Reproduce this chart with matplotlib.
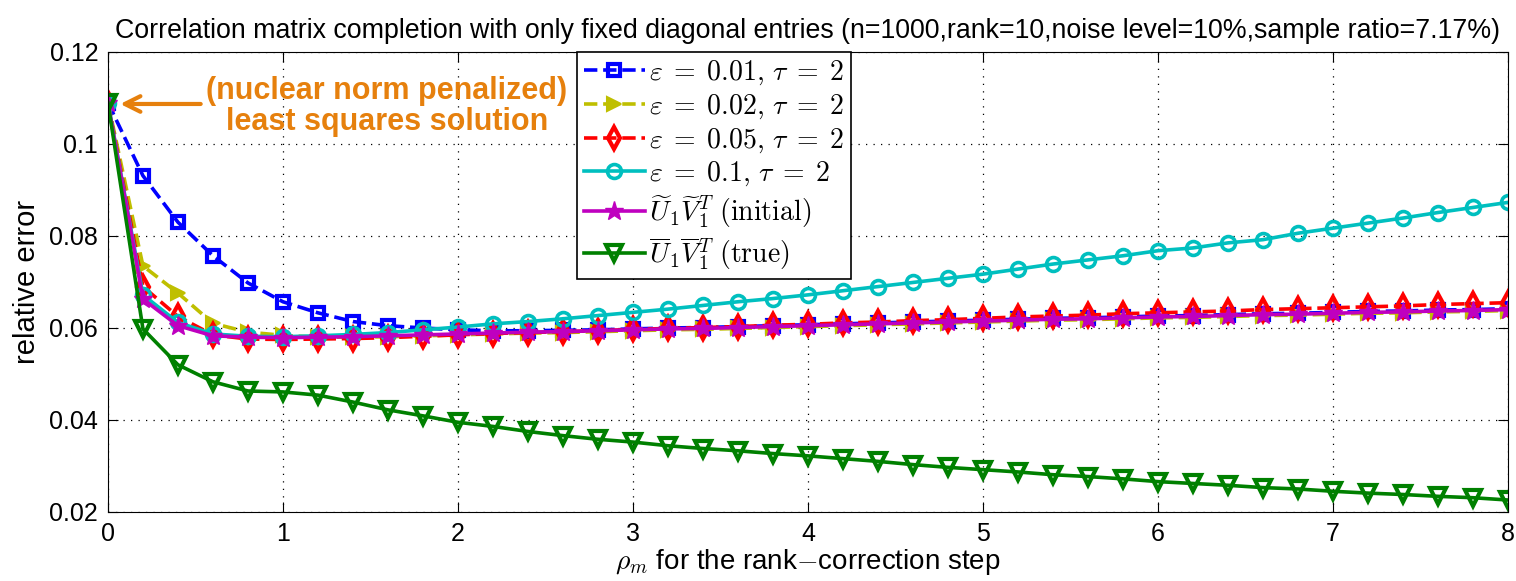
import numpy as np
import matplotlib
matplotlib.use('Agg')
import matplotlib.pyplot as plt

plt.rcParams['mathtext.fontset'] = 'cm'
plt.rcParams['font.family'] = ['Liberation Sans', 'DejaVu Sans']

# rho_m grid
rho = np.linspace(0, 8, 41)

# relative error curves
err_eps001 = [0.1090, 0.0931, 0.0830, 0.0757, 0.0698, 0.0657, 0.0633, 0.0614, 0.0605, 0.0600,
              0.0596, 0.0594, 0.0594, 0.0595, 0.0596, 0.0598, 0.0600, 0.0601, 0.0603, 0.0605,
              0.0607, 0.0609, 0.0611, 0.0613, 0.0615, 0.0617, 0.0619, 0.0621, 0.0622, 0.0624,
              0.0626, 0.0627, 0.0629, 0.0631, 0.0632, 0.0634, 0.0636, 0.0637, 0.0639, 0.0640, 0.0642]
err_eps002 = [0.1090, 0.0735, 0.0676, 0.0610, 0.0591, 0.0584, 0.0580, 0.0580, 0.0581, 0.0583,
              0.0585, 0.0587, 0.0589, 0.0590, 0.0592, 0.0594, 0.0596, 0.0597, 0.0599, 0.0601,
              0.0603, 0.0605, 0.0607, 0.0609, 0.0611, 0.0613, 0.0615, 0.0617, 0.0618, 0.0620,
              0.0622, 0.0623, 0.0625, 0.0627, 0.0628, 0.0630, 0.0632, 0.0633, 0.0635, 0.0636, 0.0638]
err_eps005 = [0.1090, 0.0690, 0.0625, 0.0585, 0.0576, 0.0575, 0.0576, 0.0577, 0.0579, 0.0582,
              0.0585, 0.0588, 0.0590, 0.0592, 0.0594, 0.0597, 0.0599, 0.0601, 0.0603, 0.0606,
              0.0608, 0.0611, 0.0613, 0.0616, 0.0618, 0.0621, 0.0624, 0.0626, 0.0628, 0.0631,
              0.0633, 0.0635, 0.0637, 0.0640, 0.0642, 0.0644, 0.0646, 0.0648, 0.0651, 0.0653, 0.0655]
err_eps01 = [0.1090, 0.0672, 0.0612, 0.0587, 0.0582, 0.0581, 0.0583, 0.0586, 0.0590, 0.0596,
             0.0602, 0.0609, 0.0614, 0.0620, 0.0627, 0.0634, 0.0641, 0.0649, 0.0657, 0.0664,
             0.0672, 0.0681, 0.0690, 0.0699, 0.0708, 0.0717, 0.0728, 0.0739, 0.0748, 0.0757,
             0.0768, 0.0774, 0.0785, 0.0792, 0.0806, 0.0817, 0.0828, 0.0839, 0.0851, 0.0862, 0.0873]
err_initial = [0.1090, 0.0663, 0.0605, 0.0583, 0.0580, 0.0579, 0.0580, 0.0581, 0.0583, 0.0585,
               0.0587, 0.0589, 0.0591, 0.0592, 0.0594, 0.0596, 0.0598, 0.0599, 0.0601, 0.0603,
               0.0605, 0.0607, 0.0609, 0.0611, 0.0613, 0.0615, 0.0617, 0.0619, 0.0620, 0.0622,
               0.0624, 0.0625, 0.0627, 0.0629, 0.0630, 0.0632, 0.0634, 0.0635, 0.0637, 0.0638, 0.0640]
err_true = [0.1090, 0.0598, 0.0520, 0.0483, 0.0463, 0.0461, 0.0454, 0.0439, 0.0422, 0.0409,
            0.0395, 0.0386, 0.0375, 0.0366, 0.0358, 0.0352, 0.0344, 0.0338, 0.0333, 0.0327,
            0.0322, 0.0316, 0.0310, 0.0303, 0.0297, 0.0292, 0.0287, 0.0281, 0.0277, 0.0272,
            0.0266, 0.0262, 0.0258, 0.0253, 0.0250, 0.0245, 0.0241, 0.0238, 0.0234, 0.0231, 0.0226]

xticks = [0, 1, 2, 3, 4, 5, 6, 7, 8]
yticks = [0.02, 0.04, 0.06, 0.08, 0.1, 0.12]
ytick_labels = ['0.02', '0.04', '0.06', '0.08', '0.1', '0.12']

fig = plt.figure(figsize=(15.16, 5.81), dpi=100)
ax = fig.add_axes([0.0712, 0.1188, 0.9235, 0.7917])

lw = 2.6
ax.plot(rho, err_eps001, '--', color=(0, 0, 1), lw=lw, marker='s', ms=9, mfc='none', mew=3,
        label=r'$\varepsilon\;=\;0.01,\,\tau\;=\;2$')
ax.plot(rho, err_eps002, '--', color=(0.75, 0.75, 0), lw=lw, marker='>', ms=10, mew=1.5,
        label=r'$\varepsilon\;=\;0.02,\,\tau\;=\;2$')
ax.plot(rho, err_eps005, '--', color=(1, 0, 0), lw=lw, marker='d', ms=11, mfc='none', mew=3,
        label=r'$\varepsilon\;=\;0.05,\,\tau\;=\;2$')
ax.plot(rho, err_eps01, '-', color=(0, 0.75, 0.75), lw=lw, marker='o', ms=10, mfc='none', mew=2.6,
        label=r'$\varepsilon\;=\;0.1,\,\tau\;=\;2$')
ax.plot(rho, err_initial, '-', color=(0.75, 0, 0.75), lw=lw, marker='*', ms=14,
        label=r'$\widetilde{U}_1\widetilde{V}_1^T\ \mathrm{(initial)}$')
ax.plot(rho, err_true, '-', color=(0, 0.5, 0), lw=lw, marker='v', ms=11, mfc='none', mew=3,
        label=r'$\overline{U}_1\overline{V}_1^T\ \mathrm{(true)}$')

ax.set_xlim(0, 8)
ax.set_ylim(0.02, 0.12)
ax.set_xticks(xticks)
ax.set_yticks(yticks)
ax.set_yticklabels(ytick_labels)
ax.tick_params(direction='in', top=True, right=True, labelsize=18, length=7, pad=7)
ax.grid(True, linestyle=(0, (1, 5)), color='black', lw=0.9)

ax.set_title('Correlation matrix completion with only fixed diagonal entries '
             '(n=1000,rank=10,noise level=10%,sample ratio=7.17%)',
             fontsize=19.3, pad=10)
ax.set_ylabel('relative error', fontsize=21, labelpad=6)
ax.set_xlabel(r'$\rho_m$ for the rank$-$correction step', fontsize=20, labelpad=1)

orange = (0.9, 0.5, 0.05)
ax.text(1.594, 0.1082, '(nuclear norm penalized)\nleast squares solution', ha='center',
        va='center', fontsize=22, fontweight='bold', color=orange, linespacing=1.05)
ax.annotate('', xy=(0.07, 0.1087), xytext=(0.53, 0.1087),
            arrowprops=dict(arrowstyle='->', color=orange, lw=3,
                            mutation_scale=28, shrinkA=0, shrinkB=0))

leg = ax.legend(loc='upper left', bbox_to_anchor=(0.335, 1.0), fontsize=20, fancybox=False,
                edgecolor='black', framealpha=1, handlelength=2.2, borderpad=0.25,
                labelspacing=0.18, handletextpad=0.15, borderaxespad=0)
leg.get_frame().set_linewidth(1.2)

fig.savefig('out.png', dpi=100)
